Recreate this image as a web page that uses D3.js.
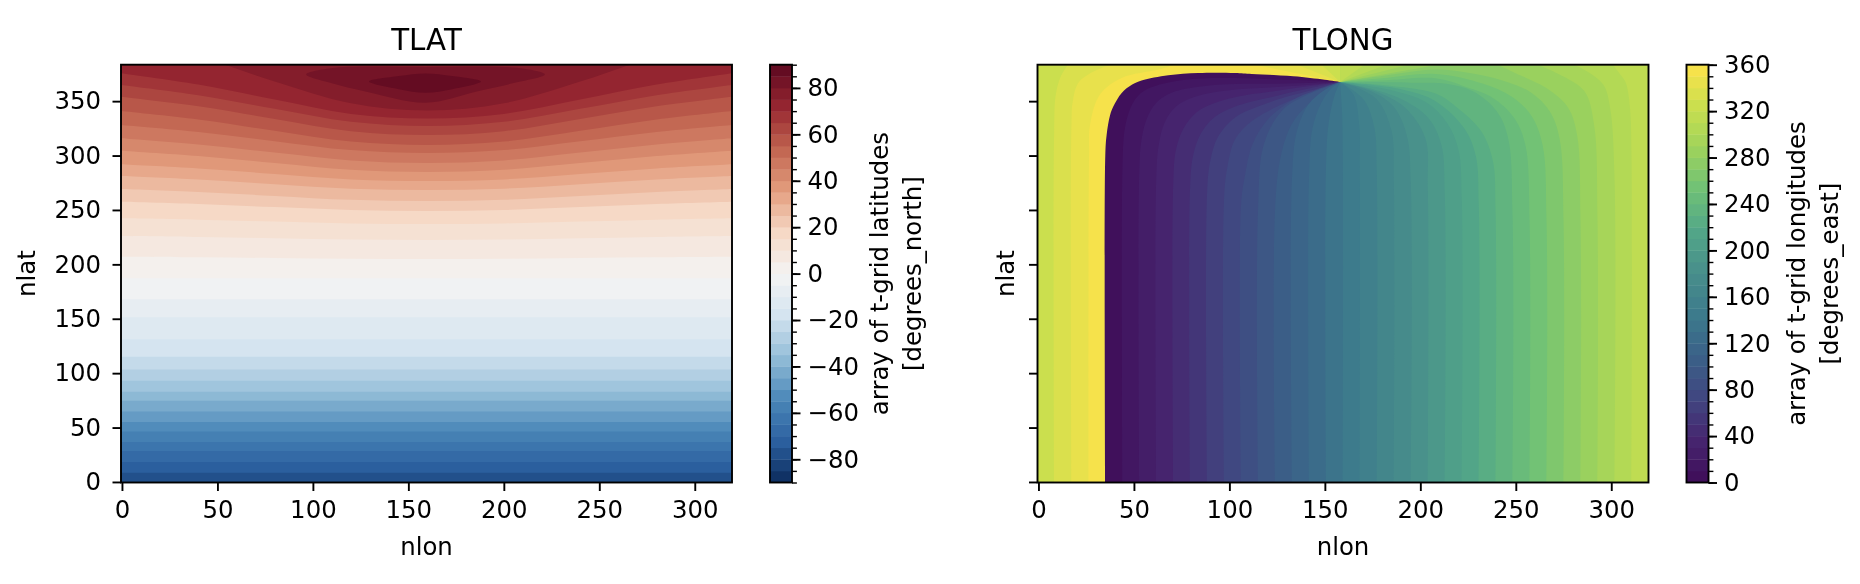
<!DOCTYPE html>
<html>
<head>
<meta charset="utf-8">
<script src="https://cdn.jsdelivr.net/npm/d3@7"></script>
<style>
  html, body { margin: 0; background: #fff; }
  svg { display: block; filter: blur(0.7px); }
  text { font-family: "DejaVu Sans", sans-serif; fill: #000; }
</style>
</head>
<body>
<svg id="chart" width="1860" height="584"></svg>
<script>
'use strict';

// Ticks.
var lonTicks = [0, 50, 100, 150, 200, 250, 300];
var latTicks = [0, 50, 100, 150, 200, 250, 300, 350];
var latBarTicks = [-80, -60, -40, -20, 0, 20, 40, 60, 80];
var latBarMinor = d3.range(-90, 95, 5);
var lonBarTicks = [0, 40, 80, 120, 160, 200, 240, 280, 320, 360];
var lonBarMinor = d3.range(0, 370, 10);

// Colour stops as seen on the two colorbars.
var rdbuStops = ['#0b2a5b', '#2c60a0', '#4b88b8', '#93bdd8', '#d4e4f0', '#f4f4f4',
                 '#f6d8c5', '#e39d7d', '#c0634f', '#962630', '#5c0820'];
var viridisStops = ['#3f0d58', '#46256f', '#414680', '#3a6088', '#3d7a8c', '#478e8b',
                    '#52a688', '#6ec077', '#9ed35c', '#cadf4e', '#fde24a'];

// TLAT: nlat of each contour, left edge to right edge.
var latCurveLon = [-0.5, 40, 80, 120, 160, 200, 240, 280, 319.5];
var latCurveLevels = [5, 10, 15, 20, 25, 30, 35, 40, 45, 50, 55, 60, 65, 70, 75];
var latCurveNlat = [
  [207.0, 206.5, 205.8, 205.1, 204.9, 205.1, 205.8, 206.5, 207.0],
  [226.1, 225.2, 224.0, 222.8, 222.4, 222.8, 224.0, 225.2, 226.1],
  [242.3, 241.0, 239.3, 237.6, 237.1, 237.6, 239.3, 241.0, 242.3],
  [257.6, 255.5, 252.6, 249.9, 249.0, 249.9, 252.6, 255.5, 257.6],
  [269.3, 266.5, 262.9, 259.3, 258.2, 259.3, 262.9, 266.5, 269.3],
  [281.2, 278.0, 273.7, 269.6, 268.3, 269.6, 273.7, 278.0, 281.2],
  [292.0, 288.2, 283.1, 278.1, 276.6, 278.1, 283.1, 288.2, 292.0],
  [304.5, 299.6, 293.1, 286.9, 284.9, 286.9, 293.1, 299.6, 304.5],
  [315.9, 310.2, 302.7, 295.5, 293.2, 295.5, 302.7, 310.2, 315.9],
  [328.1, 321.7, 313.2, 305.0, 302.4, 305.0, 313.2, 321.7, 328.1],
  [341.0, 333.2, 322.8, 312.8, 309.7, 312.8, 322.8, 333.2, 341.0],
  [354.1, 345.3, 333.7, 322.4, 318.9, 322.4, 333.7, 345.3, 354.1],
  [364.9, 355.5, 343.0, 331.0, 327.2, 331.0, 343.0, 355.5, 364.9],
  [375.6, 365.2, 351.5, 338.3, 334.1, 338.3, 351.5, 365.2, 375.6],
  [405.0, 391.0, 368.0, 348.0, 341.3, 348.0, 368.0, 391.0, 405.0]
];
// The southern contours are flat.
var latFlatLevels = [-75, -70, -65, -60, -55, -50, -45, -40, -35, -30, -25, -20, -15, -10, -5, 0];
var latFlatNlat = [8.5, 18.3, 28.5, 36.7, 46.4, 55.1, 64.8, 74.7, 82.9, 93.1, 103.4, 115.1, 131.1, 151.3, 167.9, 187.2];
// The two closed contours round the pole.
var latRing80 = [[96.5, 374.6], [109.5, 380.3], [159, 381.5], [208.7, 380.3], [221.5, 374.6],
                 [205.2, 366.7], [185.3, 358.7], [159, 348.6], [128, 358.7], [109.5, 366.7]];
var latRing85 = [[129.4, 368], [145, 373], [159, 375.5], [173, 373], [188, 368],
                 [173, 361], [159, 357.8], [145, 361]];

// TLONG: the point where every contour meets.
var lonPole = [158, 367.6];

// Contours that rise from the bottom edge on the far left, and where they leave the top edge again.
var lonLeftValues = [330, 340, 350];
var lonLeftReturn = [148, 135, 112];
var lonLeftContours = [
  [[8.2, -0.5], [8.2, 320], [9, 355], [11.5, 372], [15.6, 384]],
  [[17.3, -0.5], [17.3, 330], [18, 350], [21.4, 368], [33.6, 381], [40, 384]],
  [[26.2, -0.5], [26.5, 300], [27, 328], [32.2, 356], [43.6, 371.3], [62.8, 379], [72, 384]]
];

// Contours running bottom edge to pole, or to the top edge for the last four.
var lonContourValues = [0, 10, 20, 30, 40, 50, 60, 70, 80, 90, 100, 110, 120, 130, 140, 150,
                        160, 170, 180, 190, 200, 210, 220, 230, 240, 250, 260, 270, 280, 290, 300, 310];
var lonContours = [
  [[35, -0.5], [35, 300], [35.7, 319], [37.5, 337], [39.2, 345], [43.6, 357.5], [48.9, 365], [54, 369], [68, 373.8], [83.7, 375.9], [103, 375.9], [111.7, 375], [133.5, 372.9], [150, 369.7], [158, 367.6]],
  [[44, -0.5], [44, 290], [45, 322], [47, 338], [50, 350], [55, 359], [63, 365], [78, 370], [103, 371.3], [125, 370], [145, 369], [158, 367.6]],
  [[52.8, -0.5], [52.8, 285], [54, 315], [57, 335], [62, 349], [70, 358], [85, 363.5], [103, 365.8], [125, 366], [145, 367], [158, 367.6]],
  [[61.7, -0.5], [61.7, 280], [63, 310], [66, 330], [72, 345], [82, 354], [103, 360.6], [125, 363], [145, 365.5], [158, 367.6]],
  [[70.6, -0.5], [70.6, 275], [72, 305], [76, 325], [83, 340], [92, 348], [103, 353.6], [125, 359.5], [145, 364.5], [158, 367.6]],
  [[79.4, -0.5], [79.4, 270], [81, 300], [85, 320], [92, 335], [103, 345], [125, 355], [145, 363], [158, 367.6]],
  [[88.3, -0.5], [88.3, 265], [90, 295], [94, 317], [103, 335], [115, 345], [130, 354], [145, 361], [158, 367.6]],
  [[97.2, -0.5], [97.2, 260], [99, 290], [103, 315], [112, 332], [125, 345], [140, 356], [158, 367.6]],
  [[106.1, -0.5], [106.1, 255], [108, 280], [112, 310], [120, 333], [132, 350], [145, 360], [158, 367.6]],
  [[115, -0.5], [115, 250], [118, 310], [127.4, 341], [141, 356], [158, 367.6]],
  [[123.9, -0.5], [123.9, 250], [127, 300], [133, 330], [143, 350], [158, 367.6]],
  [[132.8, -0.5], [132.8, 280], [135.3, 322], [141.4, 347], [150, 360.5], [158, 367.6]],
  [[141.7, -0.5], [141.7, 280], [143.5, 325], [148, 348], [153, 361], [158, 367.6]],
  [[150.6, -0.5], [150.6, 290], [152, 330], [155, 355], [158, 367.6]],
  [[159.4, -0.5], [159.4, 300], [159, 340], [158, 367.6]],
  [[168.3, -0.5], [168.3, 290], [168, 328], [165, 356], [158, 367.6]],
  [[177.2, -0.5], [177.2, 285], [176, 325], [171, 350], [164, 361], [158, 367.6]],
  [[186.1, -0.5], [186.1, 280], [185, 322], [178, 350], [167.4, 362], [158, 367.6]],
  [[195, -0.5], [195, 275], [193, 318], [186, 345], [175, 358.5], [158, 367.6]],
  [[203.9, -0.5], [203.9, 270], [202.6, 316], [192, 344], [176.3, 359], [158, 367.6]],
  [[212.8, -0.5], [212.8, 265], [211, 310], [204, 335], [190, 352], [175, 361], [158, 367.6]],
  [[221.7, -0.5], [221.7, 260], [220, 305], [214, 330], [203, 349], [185, 360], [158, 367.6]],
  [[230.6, -0.5], [230.6, 255], [229, 300], [223, 325], [208, 350], [190, 361], [158, 367.6]],
  [[239.4, -0.5], [239.4, 250], [238, 295], [232, 322], [220, 343], [208, 357], [185, 364], [158, 367.6]],
  [[248.3, -0.5], [248.3, 245], [246, 316], [240, 340.7], [227.6, 359], [213.6, 366], [195, 367], [158, 367.6]],
  [[257.2, -0.5], [257.2, 240], [255, 310], [249, 335], [238, 353], [224, 363], [208, 371], [180, 369], [158, 367.6]],
  [[266.1, -0.5], [266.1, 240], [264, 310], [258, 337], [248, 354], [233, 366], [208, 375], [180, 371], [158, 367.6]],
  [[275, -0.5], [275, 240], [273, 315], [268, 340], [258, 358], [243, 369], [225, 376], [208, 379], [180, 373], [158, 367.6]],
  [[283.9, -0.5], [283.9, 240], [282, 320], [277, 345], [266, 362], [252, 374], [240, 384]],
  [[292.8, -0.5], [292.8, 240], [291, 328.4], [286, 359], [275, 372.7], [261, 384]],
  [[301.7, -0.5], [301.7, 280], [299.4, 343.7], [295.9, 365], [287.2, 377.5], [280, 384]],
  [[310.6, -0.5], [310.6, 300], [309.8, 343.7], [307.7, 366.5], [305, 374], [300.7, 384]]
];

// Contours fanning from the pole to the top edge.
var lonFanValues = [280, 290, 300, 310];
var lonFanTop = [211, 195, 183, 171];

// Layout, in pixels of the photographed page.
var plotW = 611, plotH = 417.8, plotTop = 64.7;
var barGap = 38, barW = 22;
var tickLen = 8.5, minorLen = 4.9;
var xPad = 9.5, yPad = 11.5, barPad = 7;
var lineW = 1.9, minorW = 1.4;
var tickFont = 24.4, titleFont = 29.3;

var svg = d3.select('#chart');
var uid = 0;

var latRamp = rampOf(rdbuStops);
var lonRamp = rampOf(viridisStops);

function rampOf(stops) {
  return d3.scaleLinear()
    .domain(stops.map(function(c, i) { return i / (stops.length - 1); }))
    .range(stops)
    .interpolate(d3.interpolateRgb);
}

// Colours of a band, addressed by its lower bound.
function latBand(level) { return latRamp((level + 92.5) / 180); }
function lonBand(value) { return lonRamp((value + 5) / 360); }

function drawAxes(g, x, y, showLatLabels) {
  var xAxis = d3.axisBottom(x).tickValues(lonTicks).tickSize(tickLen).tickPadding(xPad).tickFormat(d3.format('d'));
  var yAxis = d3.axisLeft(y).tickValues(latTicks).tickSize(tickLen).tickPadding(yPad).tickFormat(showLatLabels ? d3.format('d') : function() { return ''; });

  [g.append('g').attr('transform', 'translate(0,' + plotH + ')').call(xAxis),
   g.append('g').call(yAxis)].forEach(function(a) {
    a.select('.domain').remove();
    a.selectAll('line').attr('stroke', '#000').attr('stroke-width', lineW);
    a.selectAll('text').style('font-size', tickFont + 'px').attr('font-family', null);
  });
}

function drawFrame(g, w, h) {
  g.append('rect').attr('width', w).attr('height', h)
    .attr('fill', 'none').attr('stroke', '#000').attr('stroke-width', lineW);
}

function drawColorbar(g, domain, step, colorOf, majors, minors, labels) {
  var y = d3.scaleLinear().domain(domain).range([plotH, 0]);

  g.selectAll('rect.band')
    .data(d3.range(domain[0], domain[1], step))
    .join('rect')
    .attr('class', 'band')
    .attr('x', 0)
    .attr('width', barW)
    .attr('y', function(d) { return y(d + step); })
    .attr('height', function(d) { return y(d) - y(d + step) + 0.4; })
    .attr('fill', colorOf);

  var minorAxis = g.append('g').attr('transform', 'translate(' + barW + ',0)')
    .call(d3.axisRight(y).tickValues(minors).tickSize(minorLen).tickFormat(function() { return ''; }));
  minorAxis.select('.domain').remove();
  minorAxis.selectAll('line').attr('stroke', '#000').attr('stroke-width', minorW);

  var majorAxis = g.append('g').attr('transform', 'translate(' + barW + ',0)')
    .call(d3.axisRight(y).tickValues(majors).tickSize(tickLen).tickPadding(barPad).tickFormat(d3.format('d')));
  majorAxis.select('.domain').remove();
  majorAxis.selectAll('line').attr('stroke', '#000').attr('stroke-width', lineW);
  majorAxis.selectAll('text').style('font-size', tickFont + 'px').attr('font-family', null);

  drawFrame(g, barW, plotH);

  labels.forEach(function(label, i) {
    g.append('text')
      .attr('transform', 'translate(' + (118 + i * 33) + ',' + (plotH / 2) + ') rotate(-90)')
      .attr('text-anchor', 'middle')
      .style('font-size', tickFont + 'px')
      .text(label);
  });
}

function drawPanel(left, title, showLatLabels, barArgs, paint) {
  var g = svg.append('g').attr('transform', 'translate(' + left + ',' + plotTop + ')');
  var x = d3.scaleLinear().domain([-0.5, 319.5]).range([0, plotW]);
  var y = d3.scaleLinear().domain([-0.5, 383.5]).range([plotH, 0]);

  var clipId = 'clip' + (++uid);
  g.append('clipPath').attr('id', clipId)
    .append('rect').attr('width', plotW).attr('height', plotH);
  var field = g.append('g').attr('clip-path', 'url(#' + clipId + ')');

  paint(field, x, y);

  drawAxes(g, x, y, showLatLabels);
  drawFrame(g, plotW, plotH);

  g.append('text')
    .attr('x', plotW / 2).attr('y', -14.5)
    .attr('text-anchor', 'middle')
    .style('font-size', titleFont + 'px')
    .text(title);
  g.append('text')
    .attr('x', plotW / 2).attr('y', plotH + 73)
    .attr('text-anchor', 'middle')
    .style('font-size', tickFont + 'px')
    .text('nlon');
  g.append('text')
    .attr('transform', 'translate(' + (showLatLabels ? -86 : -24) + ',' + (plotH / 2) + ') rotate(-90)')
    .attr('text-anchor', 'middle')
    .style('font-size', tickFont + 'px')
    .text('nlat');

  var bar = g.append('g').attr('transform', 'translate(' + (plotW + barGap) + ',0)');
  drawColorbar.apply(null, [bar].concat(barArgs));
}

// A contour smoothed through its read points, closed through plot corners.
function contourPath(x, y, points, corners) {
  var line = d3.line()
    .x(function(d) { return x(d[0]); })
    .y(function(d) { return y(d[1]); })
    .curve(d3.curveCatmullRom.alpha(0.5));
  var tail = corners.map(function(c) { return 'L' + x(c[0]) + ',' + y(c[1]); }).join('');
  return line(points) + tail + 'Z';
}

function paintLat(field, x, y) {
  field.append('rect').attr('width', plotW).attr('height', plotH).attr('fill', latBand(-80));

  var top = [[319.5, 384], [-0.5, 384]];

  latFlatLevels.forEach(function(level, i) {
    var pts = [[-0.5, latFlatNlat[i]], [319.5, latFlatNlat[i]]];
    field.append('path').attr('d', contourPath(x, y, pts, top)).attr('fill', latBand(level));
  });

  latCurveLevels.forEach(function(level, i) {
    var pts = latCurveLon.map(function(lon, j) { return [lon, latCurveNlat[i][j]]; });
    field.append('path').attr('d', contourPath(x, y, pts, top)).attr('fill', latBand(level));
  });

  var ring = d3.line()
    .x(function(d) { return x(d[0]); })
    .y(function(d) { return y(d[1]); })
    .curve(d3.curveCatmullRomClosed.alpha(0.5));
  field.append('path').attr('d', ring(latRing80)).attr('fill', latBand(80));
  field.append('path').attr('d', ring(latRing85)).attr('fill', latBand(85));
}

function paintLon(field, x, y) {
  var poleTop = [lonPole[0], 384];
  var cornerTR = [319.5, 384];
  var cornerBR = [319.5, -0.5];

  field.append('rect').attr('width', plotW).attr('height', plotH).attr('fill', lonBand(320));

  lonLeftValues.forEach(function(value, i) {
    var corners = [[lonLeftReturn[i], 384], lonPole, [lonPole[0], -0.5]];
    field.append('path').attr('d', contourPath(x, y, lonLeftContours[i], corners)).attr('fill', lonBand(value));
  });

  lonContourValues.forEach(function(value, i) {
    var pts = lonContours[i];
    var endsAtPole = pts[pts.length - 1][0] === lonPole[0];
    var corners = endsAtPole ? [poleTop, cornerTR, cornerBR] : [cornerTR, cornerBR];
    field.append('path').attr('d', contourPath(x, y, pts, corners)).attr('fill', lonBand(value));
  });

  lonFanValues.forEach(function(value, i) {
    field.append('path')
      .attr('d', contourPath(x, y, [lonPole, [lonFanTop[i], 384]], [poleTop]))
      .attr('fill', lonBand(value));
  });
}

drawPanel(121, 'TLAT', true,
  [[-90, 90], 5, latBand, latBarTicks, latBarMinor, ['array of t-grid latitudes', '[degrees_north]']],
  paintLat);

drawPanel(1037.5, 'TLONG', false,
  [[0, 360], 10, lonBand, lonBarTicks, lonBarMinor, ['array of t-grid longitudes', '[degrees_east]']],
  paintLon);
</script>
</body>
</html>
